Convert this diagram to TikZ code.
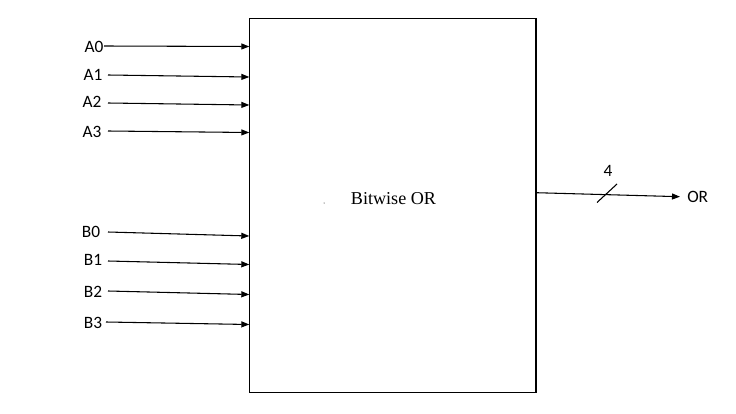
\documentclass[tikz,border=0pt]{standalone}
\usepackage{fontspec}
\setmainfont{Liberation Serif}
\newfontfamily\lblfont{Carlito}
\usetikzlibrary{arrows.meta}
\begin{document}
\begin{tikzpicture}[x=0.75pt,y=-0.75pt,
  lbl/.style={font=\lblfont\fontsize{13}{15}\selectfont, inner sep=0pt, text=black},
  sig/.style={line width=0.8pt, -{Triangle[length=6pt,width=4.5pt]}},
  blockbox/.style={draw, line width=1pt}]
\useasboundingbox (0,0) rectangle (736,414);
% block
\draw[blockbox] (249.3,18.3) rectangle (536,392.3);
\node[font=\fontsize{13.6}{16}\selectfont, inner sep=0pt] (title) at (393.5,199) {Bitwise OR};
\fill (324,203) circle (0.5);
% input labels
\node[lbl] (A0) at (94,47) {A0};
\node[lbl] (A1) at (93,75) {A1};
\node[lbl] (A2) at (92,102) {A2};
\node[lbl] (A3) at (92,132) {A3};
\node[lbl] (B0) at (91,232) {B0};
\node[lbl] (B1) at (93,260) {B1};
\node[lbl] (B2) at (93,292) {B2};
\node[lbl] (B3) at (93,323) {B3};
% line start points
\coordinate (sA0) at (104,46);
\coordinate (sA1) at (108,75);
\coordinate (sA2) at (108,103);
\coordinate (sA3) at (108,131);
\coordinate (sB0) at (108,232);
\coordinate (sB1) at (108,261);
\coordinate (sB2) at (108,291);
\coordinate (sB3) at (106,322);
% end points on block
\coordinate (eA0) at (249.3,46.5);
\coordinate (eA1) at (249.3,77);
\coordinate (eA2) at (249.3,105);
\coordinate (eA3) at (249.3,132.5);
\coordinate (eB0) at (249.3,236);
\coordinate (eB1) at (249.3,264.5);
\coordinate (eB2) at (249.3,294.5);
\coordinate (eB3) at (249.3,324.5);
\foreach \n in {A0,A1,A2,A3,B0,B1,B2,B3}
  \draw[sig] (s\n) -- (e\n);
% output
\coordinate (oS) at (536,192.7);
\node[lbl, anchor=west] (OR) at (687,197) {OR};
\coordinate (oE) at (680,196.7);
\draw[sig] (oS) -- (oE);
\coordinate (sl1) at (597,202.5);
\coordinate (sl2) at (617,184);
\draw[line width=0.8pt] (sl1) -- (sl2);
\node[lbl] (four) at (608,171) {4};
\end{tikzpicture}
\end{document}
